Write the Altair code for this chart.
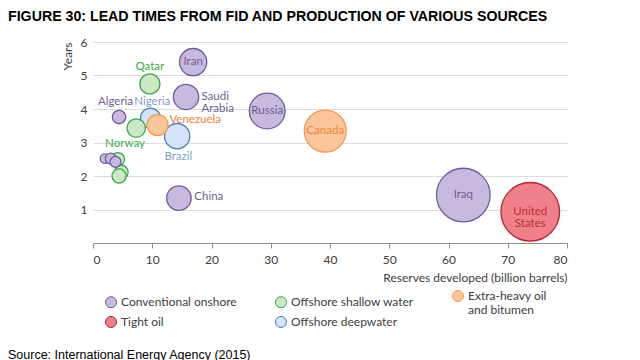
import altair as alt
import pandas as pd

# ---- data ----
names = ["Iran", "Saudi Arabia", "Russia", "Canada", "Iraq", "United States",
         "China", "Nigeria", "Brazil", "Venezuela", "Qatar", "Algeria", "Norway",
         "", "", "", "", "", ""]
categories = ["Conventional onshore", "Conventional onshore", "Conventional onshore",
              "Extra-heavy oil|and bitumen", "Conventional onshore", "Tight oil",
              "Conventional onshore", "Offshore deepwater", "Offshore deepwater",
              "Extra-heavy oil|and bitumen", "Offshore shallow water", "Conventional onshore",
              "Offshore shallow water",
              "Offshore shallow water", "Offshore shallow water", "Offshore shallow water",
              "Conventional onshore", "Conventional onshore", "Conventional onshore"]
reserves = [16.9, 15.7, 29.4, 39.2, 62.5, 73.8, 14.5, 9.7, 14.2, 10.9, 9.6, 4.4, 7.3,
            4.2, 4.8, 4.4, 2.0, 3.0, 3.8]
lead_years = [5.4, 4.36, 3.94, 3.34, 1.43, 0.93, 1.34, 3.73, 3.19, 3.52, 4.75, 3.76, 3.43,
              2.5, 2.12, 2.0, 2.52, 2.52, 2.42]
production = [1.85, 1.6, 3.2, 4.4, 7.2, 8.6, 1.5, 1.0, 1.6, 1.1, 1.0, 0.45, 0.85,
              0.45, 0.45, 0.5, 0.22, 0.3, 0.3]

# label anchors (data units)
lab_center_text = ["Iran", "Russia", "Canada", "Iraq", "United|States",
                   "Nigeria", "Brazil", "Qatar", "Algeria", "Norway"]
lab_center_cat = ["Conventional onshore", "Conventional onshore", "Extra-heavy oil|and bitumen",
                  "Conventional onshore", "Tight oil", "Offshore deepwater",
                  "Offshore deepwater", "Offshore shallow water", "Conventional onshore",
                  "Offshore shallow water"]
lab_center_x = [16.9, 29.4, 39.2, 62.5, 73.8, 10.0, 14.4, 9.6, 3.8, 5.4]
lab_center_y = [5.4, 3.94, 3.34, 1.43, 0.93, 4.2, 2.56, 5.25, 4.2, 2.97]

lab_left_text = ["Saudi|Arabia", "China", "Venezuela"]
lab_left_cat = ["Conventional onshore", "Conventional onshore", "Extra-heavy oil|and bitumen"]
lab_left_x = [18.3, 17.1, 12.9]
lab_left_y = [4.36, 1.36, 3.66]

x_ticks = [0, 10, 20, 30, 40, 50, 60, 70, 80]
y_ticks = [1, 2, 3, 4, 5, 6]

# legend is filled column by column: 2 rows x 3 columns
cat_order = ["Conventional onshore", "Tight oil", "Offshore shallow water",
             "Offshore deepwater", "Extra-heavy oil|and bitumen"]
fill_colors = ["#c8b9de", "#ef8089", "#cde8c4", "#d4e3f5", "#fbc69c"]
stroke_colors = ["#6f5d98", "#b3232f", "#3aa64a", "#4d80c4", "#f29a55"]
text_colors = ["#6e5f90", "#b8303a", "#3caa4a", "#7f9fcc", "#ec843a"]

df = pd.DataFrame({"name": names, "category": categories, "reserves": reserves,
                   "years": lead_years, "production": production})
df_c = pd.DataFrame({"label": lab_center_text, "category": lab_center_cat,
                     "x": lab_center_x, "y": lab_center_y})
df_l = pd.DataFrame({"label": lab_left_text, "category": lab_left_cat,
                     "x": lab_left_x, "y": lab_left_y})

FONT = "Lato"
xscale = alt.Scale(domain=[0, 80], nice=False)
yscale = alt.Scale(domain=[0, 6], nice=False)

xenc = alt.X("reserves:Q", scale=xscale,
             axis=alt.Axis(values=x_ticks, title="Reserves developed (billion barrels)",
                           titleAnchor="end", grid=False, domainColor="#8c8c8c",
                           tickColor="#8c8c8c", tickSize=5, labelFontSize=12,
                           labelColor="#404040", labelFont=FONT, titleFont=FONT,
                           titleFontSize=12, titleFontWeight="normal", titleColor="#404040",
                           labelPadding=6, titlePadding=7))
yenc = alt.Y("years:Q", scale=yscale,
             axis=alt.Axis(values=y_ticks, title="Years", titleAnchor="end", grid=True,
                           gridColor="#dddddd", domain=False, ticks=False, labelFontSize=12,
                           labelColor="#404040", labelFont=FONT, titleFont=FONT,
                           titleFontSize=12, titleFontWeight="normal", titleColor="#404040",
                           labelPadding=6, titlePadding=6))

legend = alt.Legend(orient="none", legendX=12, legendY=248, columns=3, title=None,
                    direction="vertical",
                    symbolType="circle", symbolSize=121, symbolStrokeWidth=1,
                    labelFont=FONT, labelFontSize=12, labelColor="#404040",
                    columnPadding=36, rowPadding=-5, gridAlign="each",
                    labelExpr="split(datum.label, '|')", labelLimit=200)

bubbles = alt.Chart(df).mark_circle(opacity=1, strokeWidth=1.3).encode(
    x=xenc, y=yenc,
    size=alt.Size("production:Q", scale=alt.Scale(domain=[0, 10], range=[0, 4000]), legend=None),
    fill=alt.Fill("category:N", scale=alt.Scale(domain=cat_order, range=fill_colors), legend=legend),
    stroke=alt.Stroke("category:N", scale=alt.Scale(domain=cat_order, range=stroke_colors), legend=legend),
)

tcolor = alt.Color("category:N", scale=alt.Scale(domain=cat_order, range=text_colors), legend=None)

labels_c = alt.Chart(df_c).transform_calculate(lines="split(datum.label, '|')").mark_text(
    font=FONT, fontSize=11.5, align="center", baseline="middle", lineHeight=12
).encode(
    x=alt.X("x:Q", scale=xscale), y=alt.Y("y:Q", scale=yscale),
    text="lines:N", color=tcolor)

labels_l = alt.Chart(df_l).transform_calculate(lines="split(datum.label, '|')").mark_text(
    font=FONT, fontSize=11.5, align="left", baseline="middle", lineHeight=12
).encode(
    x=alt.X("x:Q", scale=xscale), y=alt.Y("y:Q", scale=yscale),
    text="lines:N", color=tcolor)

source = alt.Chart(pd.DataFrame({"t": ["Source: International Energy Agency (2015)"]})).mark_text(
    font="Liberation Sans", fontSize=12.5, align="left", baseline="middle", color="#000000"
).encode(x=alt.value(-85), y=alt.value(313), text="t:N")

chart = alt.layer(bubbles, labels_c, labels_l, source).properties(
    width=474, height=201,
    padding={"left": 0, "top": 1, "right": 0, "bottom": 0},
    title=alt.TitleParams(
        text="FIGURE 30: LEAD TIMES FROM FID AND PRODUCTION OF VARIOUS SOURCES",
        anchor="start", frame="bounds", font="Liberation Sans", fontSize=14.2,
        fontWeight="bold", color="#000000", offset=10, dy=-2),
).configure_view(stroke=None)

chart.save("out.html", embed_options={"renderer": "svg", "actions": False})
